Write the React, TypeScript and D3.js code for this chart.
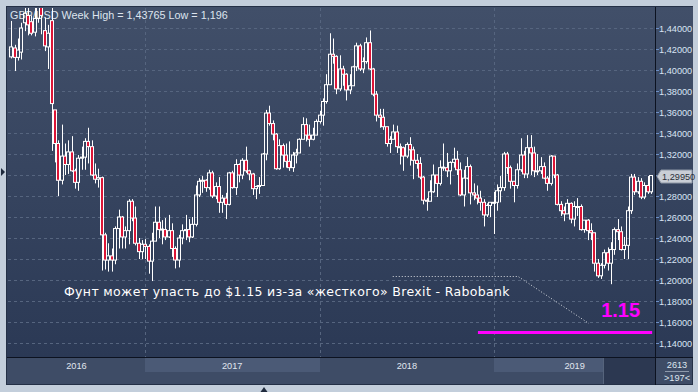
import React, { useEffect, useRef } from "react";
import * as d3 from "d3";

const WIDTH = 698;
const HEIGHT = 392;

// weekly GBP/USD bars [open, high, low, close], week of 28 Mar 2016 .. week of 25 Nov 2019
const bars2016 = [
  [1.4125, 1.4467, 1.411, 1.422], [1.421, 1.424, 1.399, 1.412], [1.412, 1.43, 1.409, 1.419],
  [1.417, 1.445, 1.41, 1.44], [1.445, 1.464, 1.437, 1.454], [1.452, 1.47, 1.433, 1.443],
  [1.446, 1.452, 1.433, 1.435], [1.436, 1.466, 1.432, 1.449], [1.449, 1.477, 1.445, 1.463],
  [1.463, 1.465, 1.434, 1.452], [1.4375, 1.45, 1.418, 1.423], [1.422, 1.443, 1.401, 1.435],
  [1.447, 1.502, 1.323, 1.368], [1.362, 1.362, 1.312, 1.33], [1.33, 1.333, 1.28, 1.295],
  [1.295, 1.348, 1.291, 1.318], [1.318, 1.33, 1.3, 1.31], [1.31, 1.333, 1.301, 1.322],
  [1.322, 1.337, 1.303, 1.304], [1.304, 1.306, 1.287, 1.293], [1.293, 1.319, 1.285, 1.316],
  [1.316, 1.327, 1.305, 1.317], [1.317, 1.335, 1.305, 1.332], [1.332, 1.345, 1.311, 1.327],
  [1.327, 1.333, 1.299, 1.3], [1.3, 1.311, 1.292, 1.296], [1.296, 1.306, 1.288, 1.2975],
  [1.2975, 1.2985, 1.209, 1.243], [1.243, 1.245, 1.21, 1.219], [1.219, 1.235, 1.208, 1.223],
  [1.223, 1.23, 1.208, 1.219], [1.219, 1.251, 1.215, 1.249], [1.249, 1.267, 1.23, 1.26],
  [1.26, 1.261, 1.23, 1.241], [1.241, 1.251, 1.23, 1.247], [1.247, 1.277, 1.234, 1.275],
  [1.275, 1.277, 1.256, 1.259], [1.259, 1.27, 1.233, 1.235], [1.235, 1.24, 1.22, 1.227],
  [1.227, 1.238, 1.22, 1.234],
];

const bars2017 = [
  [1.234, 1.239, 1.22, 1.232], [1.232, 1.234, 1.206, 1.218], [1.218, 1.245, 1.199, 1.237],
  [1.237, 1.27, 1.237, 1.255], [1.255, 1.27, 1.24, 1.248], [1.248, 1.257, 1.234, 1.2485],
  [1.248, 1.259, 1.238, 1.241], [1.241, 1.262, 1.24, 1.247], [1.247, 1.254, 1.222, 1.23],
  [1.23, 1.232, 1.211, 1.219], [1.219, 1.243, 1.212, 1.24], [1.24, 1.253, 1.234, 1.247],
  [1.247, 1.262, 1.238, 1.248], [1.248, 1.258, 1.236, 1.241], [1.241, 1.26, 1.24, 1.253],
  [1.253, 1.29, 1.251, 1.281], [1.281, 1.297, 1.279, 1.294], [1.294, 1.299, 1.283, 1.295],
  [1.295, 1.296, 1.284, 1.288], [1.288, 1.305, 1.286, 1.302], [1.302, 1.304, 1.278, 1.28],
  [1.28, 1.293, 1.277, 1.289], [1.289, 1.298, 1.264, 1.274], [1.274, 1.281, 1.264, 1.278],
  [1.278, 1.283, 1.258, 1.272], [1.272, 1.303, 1.271, 1.302], [1.302, 1.304, 1.287, 1.288],
  [1.288, 1.315, 1.281, 1.31], [1.31, 1.311, 1.293, 1.3], [1.3, 1.316, 1.296, 1.314],
  [1.314, 1.327, 1.302, 1.304], [1.304, 1.305, 1.295, 1.301], [1.301, 1.302, 1.281, 1.287],
  [1.287, 1.29, 1.277, 1.289], [1.289, 1.298, 1.282, 1.29], [1.29, 1.321, 1.29, 1.32],
  [1.32, 1.362, 1.314, 1.359], [1.359, 1.366, 1.347, 1.349], [1.349, 1.352, 1.333, 1.339],
  [1.339, 1.34, 1.305, 1.306], [1.306, 1.334, 1.305, 1.328], [1.328, 1.33, 1.307, 1.319],
  [1.319, 1.33, 1.307, 1.313], [1.313, 1.332, 1.304, 1.307], [1.307, 1.322, 1.303, 1.319],
  [1.319, 1.325, 1.311, 1.321], [1.321, 1.335, 1.321, 1.334], [1.334, 1.355, 1.334, 1.348],
  [1.348, 1.354, 1.332, 1.338], [1.338, 1.348, 1.327, 1.334], [1.334, 1.345, 1.333, 1.338],
  [1.338, 1.353, 1.338, 1.351],
];

const bars2018 = [
  [1.351, 1.361, 1.349, 1.357], [1.357, 1.373, 1.347, 1.37], [1.37, 1.396, 1.368, 1.386],
  [1.386, 1.435, 1.386, 1.415], [1.415, 1.43, 1.406, 1.413], [1.413, 1.414, 1.377, 1.382],
  [1.382, 1.414, 1.38, 1.401], [1.401, 1.404, 1.385, 1.396], [1.396, 1.397, 1.371, 1.381],
  [1.381, 1.396, 1.377, 1.385], [1.385, 1.404, 1.385, 1.403], [1.403, 1.426, 1.399, 1.423],
  [1.423, 1.425, 1.399, 1.401], [1.401, 1.412, 1.397, 1.408], [1.408, 1.431, 1.406, 1.426],
  [1.426, 1.43765, 1.4, 1.401], [1.401, 1.402, 1.375, 1.377], [1.377, 1.38, 1.351, 1.357],
  [1.357, 1.363, 1.345, 1.355], [1.355, 1.363, 1.343, 1.346], [1.346, 1.346, 1.327, 1.33],
  [1.33, 1.337, 1.321, 1.334], [1.334, 1.348, 1.334, 1.341], [1.341, 1.347, 1.321, 1.327],
  [1.327, 1.33, 1.31, 1.326], [1.326, 1.327, 1.304, 1.318], [1.318, 1.331, 1.316, 1.329],
  [1.329, 1.336, 1.309, 1.324], [1.324, 1.327, 1.296, 1.314], [1.314, 1.32, 1.306, 1.311],
  [1.311, 1.317, 1.296, 1.298], [1.298, 1.299, 1.272, 1.276], [1.276, 1.278, 1.266, 1.275],
  [1.275, 1.295, 1.275, 1.284], [1.284, 1.31, 1.283, 1.3], [1.3, 1.3, 1.279, 1.292],
  [1.292, 1.314, 1.29, 1.307], [1.307, 1.33, 1.304, 1.3075], [1.307, 1.321, 1.298, 1.304],
  [1.304, 1.313, 1.291, 1.312], [1.312, 1.326, 1.307, 1.315], [1.315, 1.323, 1.3, 1.305],
  [1.305, 1.312, 1.28, 1.281], [1.281, 1.305, 1.27, 1.297], [1.297, 1.317, 1.296, 1.308],
  [1.308, 1.31, 1.272, 1.283], [1.283, 1.292, 1.276, 1.281], [1.281, 1.29, 1.272, 1.278],
  [1.278, 1.285, 1.266, 1.274], [1.274, 1.277, 1.251, 1.262], [1.262, 1.273, 1.26, 1.271],
  [1.271, 1.274, 1.26, 1.274], [1.274, 1.284, 1.2438, 1.274],
];

const bars2019 = [
  [1.274, 1.291, 1.266, 1.285], [1.285, 1.299, 1.274, 1.288], [1.288, 1.322, 1.285, 1.32],
  [1.32, 1.322, 1.301, 1.307], [1.307, 1.309, 1.287, 1.294], [1.294, 1.294, 1.274, 1.29],
  [1.29, 1.311, 1.287, 1.305], [1.305, 1.335, 1.303, 1.319], [1.319, 1.323, 1.297, 1.301],
  [1.301, 1.338, 1.297, 1.326], [1.326, 1.338, 1.3, 1.321], [1.321, 1.327, 1.298, 1.304],
  [1.304, 1.32, 1.3, 1.3035], [1.304, 1.317, 1.301, 1.308], [1.308, 1.312, 1.296, 1.297],
  [1.297, 1.299, 1.285, 1.292], [1.292, 1.319, 1.29, 1.318], [1.318, 1.318, 1.297, 1.3],
  [1.3, 1.301, 1.271, 1.272], [1.272, 1.275, 1.261, 1.266], [1.266, 1.27, 1.256, 1.263],
  [1.263, 1.277, 1.263, 1.273], [1.273, 1.274, 1.254, 1.258], [1.258, 1.275, 1.251, 1.27],
  [1.27, 1.278, 1.261, 1.2695], [1.27, 1.272, 1.247, 1.248], [1.248, 1.257, 1.245, 1.257],
  [1.257, 1.258, 1.238, 1.247], [1.247, 1.254, 1.238, 1.245], [1.245, 1.245, 1.208, 1.216],
  [1.216, 1.22, 1.202, 1.204], [1.204, 1.216, 1.201, 1.214], [1.214, 1.229, 1.211, 1.226],
  [1.226, 1.231, 1.209, 1.216], [1.216, 1.236, 1.196, 1.229], [1.229, 1.25, 1.224, 1.248],
  [1.248, 1.258, 1.238, 1.246], [1.246, 1.251, 1.228, 1.229], [1.229, 1.241, 1.22, 1.233],
  [1.233, 1.27, 1.22, 1.266], [1.266, 1.301, 1.263, 1.298], [1.298, 1.301, 1.281, 1.284],
  [1.284, 1.298, 1.282, 1.294], [1.294, 1.297, 1.277, 1.279], [1.279, 1.293, 1.277, 1.29],
  [1.29, 1.299, 1.282, 1.284], [1.284, 1.3, 1.282, 1.2995],
];

const years = [2016, 2017, 2018, 2019];
const shadedYears = [2017, 2019];
const title = "GBP/USD Week High = 1,43765 Low = 1,196";
const lastPrice = 1.2995;
const target = 1.15;
const targetFrom = new Date(2018, 10, 28);
const targetTo = new Date(2019, 10, 27);
const note = "Фунт может упасть до $1.15 из-за «жесткого» Brexit - Rabobank";
// dotted leader from the note to the target label: [date, price]
const leader: [Date, number][] = [
  [new Date(2018, 5, 3), 1.2037],
  [new Date(2019, 1, 20), 1.2037],
  [new Date(2019, 6, 18), 1.1593],
];
const footerTop = "2613";
const footerBottom = ">197<";

const plot = { left: 8, right: 655, top: 8, bottom: 357 };
const FONT = "Liberation Sans, Arial, sans-serif";

function drawChart(node: SVGSVGElement) {
  const svg = d3.select(node);
  svg.selectAll("*").remove();

  const bars = [...bars2016, ...bars2017, ...bars2018, ...bars2019];
  const weeks = d3.timeMonday.range(new Date(2016, 2, 28), new Date(2019, 10, 26));
  const n = Math.min(bars.length, weeks.length);

  const x = d3
    .scaleTime()
    .domain([new Date(2016, 2, 21), new Date(2019, 11, 3)])
    .range([plot.left, plot.right]);
  const y = d3.scaleLinear().domain([1.14, 1.44]).range([343, 28]);

  const defs = svg.append("defs");
  const grad = defs
    .append("linearGradient")
    .attr("id", "bg")
    .attr("x1", 0)
    .attr("y1", 0)
    .attr("x2", 0)
    .attr("y2", 1);
  grad.append("stop").attr("offset", "0%").attr("stop-color", "#414f69");
  grad.append("stop").attr("offset", "100%").attr("stop-color", "#2b3955");
  defs
    .append("clipPath")
    .attr("id", "plotclip")
    .append("rect")
    .attr("x", plot.left)
    .attr("y", plot.top)
    .attr("width", plot.right - plot.left)
    .attr("height", plot.bottom - plot.top);

  // window frame
  svg.append("rect").attr("width", WIDTH).attr("height", HEIGHT).attr("fill", "#c3cedb");
  svg
    .append("rect")
    .attr("x", 6.5)
    .attr("y", 6.5)
    .attr("width", 686)
    .attr("height", 378)
    .attr("fill", "#3e4c66")
    .attr("stroke", "#243046");
  svg
    .append("rect")
    .attr("x", 7)
    .attr("y", 7)
    .attr("width", 686)
    .attr("height", 350)
    .attr("fill", "url(#bg)");

  // year bands on the time axis
  shadedYears.forEach((yr) => {
    const x0 = Math.max(plot.left, x(new Date(yr, 0, 1)));
    const x1 = Math.min(603, x(new Date(yr + 1, 0, 1)));
    svg
      .append("rect")
      .attr("x", Math.round(x0))
      .attr("y", 358)
      .attr("width", Math.round(x1) - Math.round(x0))
      .attr("height", 14)
      .attr("fill", "#4b5a76");
  });
  svg
    .append("rect")
    .attr("x", 604)
    .attr("y", 358)
    .attr("width", 51)
    .attr("height", 26)
    .attr("fill", "#2c3851");
  svg
    .append("line")
    .attr("x1", 603.5)
    .attr("x2", 603.5)
    .attr("y1", 358)
    .attr("y2", 384)
    .attr("stroke", "#56647c");

  // grid
  const yTicks = y.ticks(15);
  svg
    .append("g")
    .selectAll("line")
    .data(yTicks)
    .enter()
    .append("line")
    .attr("x1", plot.left)
    .attr("x2", plot.right)
    .attr("y1", (d) => Math.round(y(d)) + 0.5)
    .attr("y2", (d) => Math.round(y(d)) + 0.5)
    .attr("stroke", "#56657f")
    .attr("stroke-dasharray", "3,3");
  svg
    .append("g")
    .selectAll("line")
    .data(years.slice(1))
    .enter()
    .append("line")
    .attr("x1", (d) => Math.round(x(new Date(d, 0, 1))) + 0.5)
    .attr("x2", (d) => Math.round(x(new Date(d, 0, 1))) + 0.5)
    .attr("y1", plot.top)
    .attr("y2", plot.bottom)
    .attr("stroke", "#56657f")
    .attr("stroke-dasharray", "3,3");

  // title sits under the candles
  svg
    .append("text")
    .attr("x", 10)
    .attr("y", 18.5)
    .attr("font-family", FONT)
    .attr("font-size", 10.8)
    .attr("fill", "#dde4ee")
    .text(title);

  // candles
  const g = svg.append("g").attr("clip-path", "url(#plotclip)");
  for (let i = 0; i < n; i++) {
    const [o, h, l, c] = bars[i];
    const cx = Math.round(x(weeks[i]));
    const top = y(Math.max(o, c));
    const bot = y(Math.min(o, c));
    g.append("line")
      .attr("x1", cx + 0.5)
      .attr("x2", cx + 0.5)
      .attr("y1", y(h))
      .attr("y2", top)
      .attr("stroke", "#ffffff");
    g.append("line")
      .attr("x1", cx + 0.5)
      .attr("x2", cx + 0.5)
      .attr("y1", bot)
      .attr("y2", y(l))
      .attr("stroke", "#ffffff");
    g.append("rect")
      .attr("x", cx - 1.5)
      .attr("y", top)
      .attr("width", 3)
      .attr("height", Math.max(1, bot - top))
      .attr("fill", c < o ? "#dc1537" : "none")
      .attr("stroke", "#ffffff");
  }

  // target line and labels
  svg
    .append("line")
    .attr("x1", x(targetFrom))
    .attr("x2", x(targetTo))
    .attr("y1", y(target))
    .attr("y2", y(target))
    .attr("stroke", "#ff00ff")
    .attr("stroke-width", 3);
  svg
    .append("text")
    .attr("x", x(targetTo) - 12)
    .attr("y", y(target) - 16)
    .attr("text-anchor", "end")
    .attr("font-family", FONT)
    .attr("font-weight", "bold")
    .attr("font-size", 20)
    .attr("fill", "#ff00ff")
    .text(d3.format(".2f")(target));
  svg
    .append("path")
    .attr(
      "d",
      d3
        .line<[Date, number]>()
        .x((d) => x(d[0]))
        .y((d) => Math.round(y(d[1])) + 0.5)(leader)
    )
    .attr("fill", "none")
    .attr("stroke", "#d4d8de")
    .attr("stroke-dasharray", "1,2");
  svg
    .append("text")
    .attr("x", 64)
    .attr("y", 296)
    .attr("font-family", "DejaVu Sans, sans-serif")
    .attr("font-size", 12.5)
    .attr("letter-spacing", 0.35)
    .attr("fill", "#ffffff")
    .text(note);

  // separators
  svg
    .append("line")
    .attr("x1", 7)
    .attr("x2", 693)
    .attr("y1", 357.5)
    .attr("y2", 357.5)
    .attr("stroke", "#0c1220");
  svg
    .append("line")
    .attr("x1", 655.5)
    .attr("x2", 655.5)
    .attr("y1", 7)
    .attr("y2", 385)
    .attr("stroke", "#0c1220");

  // price axis (the label hidden by the last price tag is skipped)
  const fmt = (v: number) => d3.format(".5f")(v).replace(".", ",");
  const py = Math.round(y(lastPrice)) + 0.5;
  const axis = svg.append("g");
  yTicks.forEach((t) => {
    const ty = Math.round(y(t)) + 0.5;
    axis
      .append("line")
      .attr("x1", 656)
      .attr("x2", 659)
      .attr("y1", ty)
      .attr("y2", ty)
      .attr("stroke", "#6d8fc6");
    if (Math.abs(ty - py) < 12) return;
    axis
      .append("text")
      .attr("x", 659)
      .attr("y", ty)
      .attr("dy", "0.35em")
      .attr("font-family", FONT)
      .attr("font-size", 9.2)
      .attr("fill", "#d9e4f4")
      .text(fmt(t));
  });

  svg
    .append("path")
    .attr(
      "d",
      `M657,${py} L661,${py - 6.5} L692,${py - 6.5} L692,${py + 6.5} L661,${py + 6.5} Z`
    )
    .attr("fill", "#c9ced6")
    .attr("stroke", "#8c96a5");
  svg
    .append("text")
    .attr("x", 662)
    .attr("y", py)
    .attr("dy", "0.35em")
    .attr("font-family", FONT)
    .attr("font-size", 9.2)
    .attr("fill", "#2a2f38")
    .text(fmt(lastPrice));

  // time axis labels
  years.forEach((yr) => {
    const x0 = Math.max(plot.left, x(new Date(yr, 0, 1)));
    const x1 = Math.min(plot.right, x(new Date(yr + 1, 0, 1)));
    svg
      .append("text")
      .attr("x", (x0 + x1) / 2)
      .attr("y", 369)
      .attr("text-anchor", "middle")
      .attr("font-family", FONT)
      .attr("font-size", 9.2)
      .attr("fill", "#e0e6ef")
      .text(yr);
  });

  // corner box
  svg
    .append("text")
    .attr("x", 677)
    .attr("y", 368)
    .attr("text-anchor", "middle")
    .attr("font-family", FONT)
    .attr("font-size", 9.2)
    .attr("fill", "#dde4ee")
    .text(footerTop);
  svg
    .append("line")
    .attr("x1", 665)
    .attr("x2", 689)
    .attr("y1", 371.5)
    .attr("y2", 371.5)
    .attr("stroke", "#8d99ab");
  svg
    .append("text")
    .attr("x", 677)
    .attr("y", 381)
    .attr("text-anchor", "middle")
    .attr("font-family", FONT)
    .attr("font-size", 9.2)
    .attr("fill", "#dde4ee")
    .text(footerBottom);

  // frame arrows
  svg.append("path").attr("d", "M1,168 L5,172 L1,176 Z").attr("fill", "#1f2a3d");
  svg.append("path").attr("d", "M260.5,392 L264,387 L267.5,392 Z").attr("fill", "#1f2a3d");
}

export default function App() {
  const ref = useRef<SVGSVGElement>(null);

  useEffect(() => {
    if (ref.current) drawChart(ref.current);
  }, []);

  return (
    <div style={{ position: "absolute", left: 0, top: 0 }}>
      <svg ref={ref} width={WIDTH} height={HEIGHT} style={{ display: "block" }} />
    </div>
  );
}
